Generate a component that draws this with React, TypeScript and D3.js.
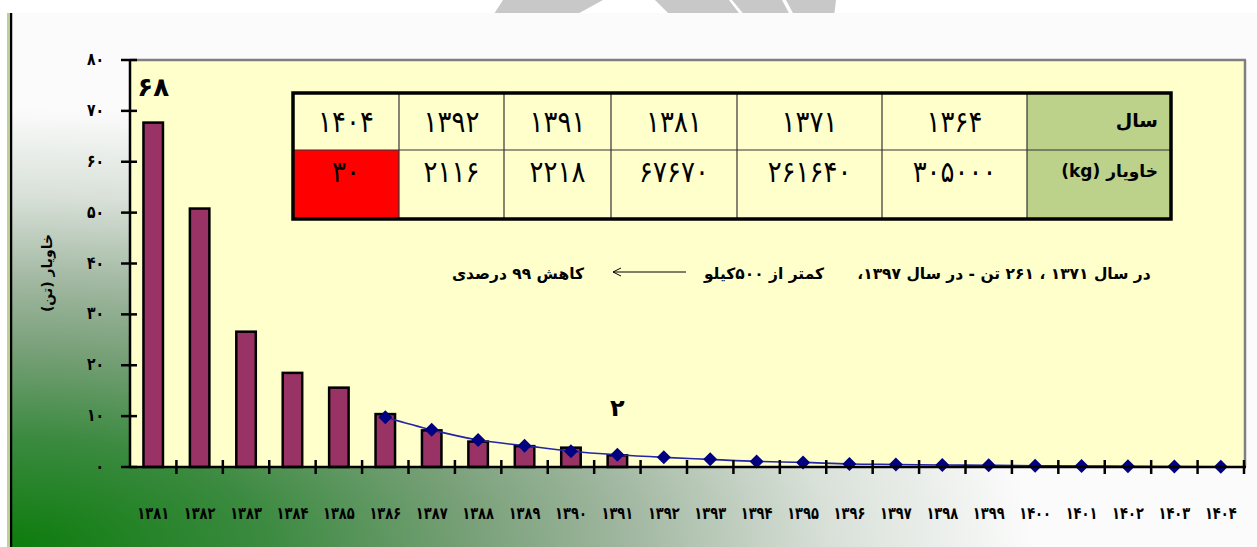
import React from 'react';
import * as d3 from 'd3';

const categories = ['۱۳۸۱','۱۳۸۲','۱۳۸۳','۱۳۸۴','۱۳۸۵','۱۳۸۶','۱۳۸۷','۱۳۸۸','۱۳۸۹','۱۳۹۰','۱۳۹۱','۱۳۹۲','۱۳۹۳','۱۳۹۴','۱۳۹۵','۱۳۹۶','۱۳۹۷','۱۳۹۸','۱۳۹۹','۱۴۰۰','۱۴۰۱','۱۴۰۲','۱۴۰۳','۱۴۰۴'];
// bars: 1381..1391 (tonnes)
const barValues = [67.7, 50.8, 26.6, 18.5, 15.6, 10.4, 7.2, 5.0, 4.1, 3.8, 2.3];
// line: 1386..1404 (tonnes)
const lineStart = 5;
const lineValues = [9.8, 7.3, 5.3, 4.2, 3.1, 2.4, 1.9, 1.5, 1.1, 0.9, 0.6, 0.5, 0.4, 0.35, 0.25, 0.2, 0.15, 0.1, 0.05];
const yTicks = [0, 10, 20, 30, 40, 50, 60, 70, 80];
const yTickLabels = ['۰','۱۰','۲۰','۳۰','۴۰','۵۰','۶۰','۷۰','۸۰'];
const tableHeader = ['سال', 'خاویار (kg)'];
const tableYears = ['۱۴۰۴','۱۳۹۲','۱۳۹۱','۱۳۸۱','۱۳۷۱','۱۳۶۴'];
const tableValues = ['۳۰','۲۱۱۶','۲۲۱۸','۶۷۶۷۰','۲۶۱۶۴۰','۳۰۵۰۰۰'];
const yTitle = 'خاویار (تن)';
const noteParts = ['در سال ۱۳۷۱ ، ۲۶۱ تن - در سال ۱۳۹۷،', 'کمتر از ۵۰۰کیلو', 'کاهش ۹۹ درصدی'];
const peakLabel = '۶۸';
const lowLabel = '۲';

const W = 1257, H = 547;
const FONT = '"DejaVu Sans", sans-serif';

export default function App() {
  const x = d3.scaleBand<string>().domain(categories).range([130, 1244]).padding(0);
  const y = d3.scaleLinear().domain([0, 80]).range([467, 60]);
  const bw = x.bandwidth();
  const barW = bw * 0.42;
  const cx = (c: string) => (x(c) as number) + bw / 2;

  const line = d3.line<number>()
    .x((_, i) => cx(categories[i + lineStart]))
    .y(d => y(d))
    .curve(d3.curveMonotoneX);

  const colEdges = [293, 399, 504, 611, 737, 882, 1027, 1171];
  const rowEdges = [93, 150, 219];

  return (
    <svg width={W} height={H} style={{ position: 'absolute', left: 0, top: 0, background: '#fff' }}>
      <defs>
        <radialGradient id="bg" cx="0" cy="1" r="0.82" fx="0" fy="1">
          <stop offset="0" stopColor="#0c7c0c" />
          <stop offset="0.25" stopColor="#3b8a40" />
          <stop offset="0.45" stopColor="#78a078" />
          <stop offset="0.6" stopColor="#9fb69f" />
          <stop offset="0.8" stopColor="#d8e0d8" />
          <stop offset="1" stopColor="#fbfbfb" />
        </radialGradient>
      </defs>
      {/* watermark remnants */}
      <polygon points="492,17 503,0 603,0 572,17" fill="#c8c8c8" />
      <polygon points="655,0 729,0 742,17 672,17" fill="#c8c8c8" />
      <polygon points="732,0 782,0 791,17 746,17" fill="#c8c8c8" />
      <polygon points="786,0 836,0 834,17 795,17" fill="#c8c8c8" />
      <rect x={10} y={13} width={W - 10} height={H - 13} fill="url(#bg)" />
      <line x1={8} x2={8} y1={13} y2={H} stroke="#a8c070" strokeWidth={1.5} />
      <line x1={11} x2={11} y1={13} y2={H} stroke="#000" strokeWidth={2.5} />

      {/* plot area */}
      <rect x={130} y={60} width={1115} height={407} fill="#ffffcc" />
      <line x1={130} x2={1246} y1={60} y2={60} stroke="#7f7f7f" strokeWidth={2.5} />
      <line x1={1245} x2={1245} y1={60} y2={467} stroke="#7f7f7f" strokeWidth={2.5} />

      {/* table */}
      <g fontFamily={FONT}>
        {tableYears.map((t, i) => (
          <g key={i}>
            <rect x={colEdges[i]} y={rowEdges[0]} width={colEdges[i + 1] - colEdges[i]} height={rowEdges[1] - rowEdges[0]} fill="#ffffcc" />
            <rect x={colEdges[i]} y={rowEdges[1]} width={colEdges[i + 1] - colEdges[i]} height={rowEdges[2] - rowEdges[1]} fill={i === 0 ? '#ff0000' : '#ffffcc'} />
            <text transform={`translate(${(colEdges[i] + colEdges[i + 1]) / 2},132) scale(1,1.15)`} textAnchor="middle" fontSize={26} fill="#000">{t}</text>
            <text transform={`translate(${(colEdges[i] + colEdges[i + 1]) / 2},182) scale(1,1.15)`} textAnchor="middle" fontSize={26} fill="#000">{tableValues[i]}</text>
          </g>
        ))}
        <rect x={colEdges[6]} y={rowEdges[0]} width={colEdges[7] - colEdges[6]} height={rowEdges[2] - rowEdges[0]} fill="#bcd18a" />
        <text x={1158} y={127} textAnchor="start" direction="rtl" fontSize={19} fontWeight="bold" fill="#000">{tableHeader[0]}</text>
        <text x={1158} y={177} textAnchor="start" direction="rtl" fontSize={17} fontWeight="bold" fill="#000">{tableHeader[1]}</text>
        {colEdges.slice(1, -1).map((c, i) => (
          <line key={i} x1={c} x2={c} y1={rowEdges[0]} y2={rowEdges[2]} stroke="#333" strokeWidth={1.2} />
        ))}
        <line x1={colEdges[0]} x2={colEdges[7]} y1={rowEdges[1]} y2={rowEdges[1]} stroke="#333" strokeWidth={1.2} />
        <rect x={colEdges[0]} y={rowEdges[0]} width={colEdges[7] - colEdges[0]} height={rowEdges[2] - rowEdges[0]} fill="none" stroke="#000" strokeWidth={3.5} />
      </g>

      {/* annotation */}
      <g fontFamily={FONT} fontWeight="bold" fontSize={15.5} fill="#000">
        <text x={1004} y={279} textAnchor="middle" direction="rtl">{noteParts[0]}</text>
        <text x={764} y={279} textAnchor="middle" direction="rtl">{noteParts[1]}</text>
        <text x={518} y={279} textAnchor="middle" direction="rtl">{noteParts[2]}</text>
        <line x1={686} x2={613} y1={272} y2={272} stroke="#000" strokeWidth={1} />
        <path d="M621,268 L613,272 L621,276" fill="none" stroke="#000" strokeWidth={1} />
      </g>

      {/* bars */}
      {barValues.map((v, i) => (
        <rect key={i} x={cx(categories[i]) - barW / 2} y={y(v)} width={barW} height={y(0) - y(v)}
          fill="#993366" stroke="#000" strokeWidth={2.5} />
      ))}

      {/* line */}
      <path d={line(lineValues) || ''} fill="none" stroke="#2424a8" strokeWidth={1.6} />
      {lineValues.map((v, i) => {
        const px = cx(categories[i + lineStart]);
        const py = y(v);
        const s = 7;
        return <path key={i} d={`M${px},${py - s} L${px + s},${py} L${px},${py + s} L${px - s},${py} Z`} fill="#000080" />;
      })}

      {/* axes */}
      <line x1={130} x2={130} y1={60} y2={468} stroke="#000" strokeWidth={2.5} />
      <line x1={129} x2={1246} y1={467} y2={467} stroke="#000" strokeWidth={2.5} />
      {yTicks.map((t, i) => (
        <g key={i}>
          <line x1={121} x2={137} y1={y(t)} y2={y(t)} stroke="#000" strokeWidth={2.5} />
          <text transform={`translate(104,${y(t) + 5}) scale(1,1.25)`} textAnchor="end" fontFamily={FONT} fontWeight="bold" fontSize={14} fill="#000">{yTickLabels[i]}</text>
        </g>
      ))}
      {categories.map((c, i) => (
        <line key={'t' + i} x1={(x(c) as number) + bw} x2={(x(c) as number) + bw} y1={460} y2={474} stroke="#000" strokeWidth={2.5} />
      ))}
      {categories.map((c, i) => (
        <text key={'l' + i} transform={`translate(${cx(c)},519) scale(1,1.3)`} textAnchor="middle" fontFamily={FONT} fontWeight="bold" fontSize={13} fill="#000">{c}</text>
      ))}

      {/* value labels */}
      <text x={cx(categories[0])} y={96} textAnchor="middle" fontFamily={FONT} fontWeight="bold" fontSize={26} fill="#000">{peakLabel}</text>
      <text x={cx(categories[10])} y={416} textAnchor="middle" fontFamily={FONT} fontWeight="bold" fontSize={24} fill="#000">{lowLabel}</text>

      {/* y title */}
      <text transform="translate(52,273) rotate(-90)" textAnchor="middle" direction="rtl" fontFamily={FONT} fontWeight="bold" fontSize={14} fill="#000">{yTitle}</text>
    </svg>
  );
}
